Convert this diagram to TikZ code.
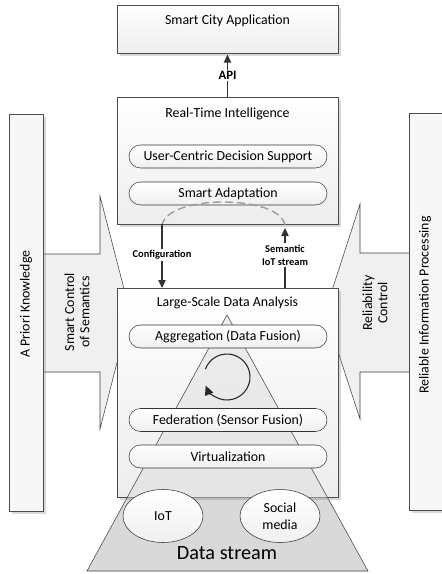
\documentclass[tikz,border=0pt]{standalone}
\usepackage{fontspec}
\setmainfont{Carlito}
\usetikzlibrary{arrows.meta,shadows,shapes.geometric,positioning}
\newcommand{\txtsize}{\fontsize{10.4}{11.5}\selectfont}
\newcommand{\pyramid}{(227,315) -- (368,571) -- (87,571) -- cycle}
\tikzset{
	panel/.style={draw=black!70, top color=white, bottom color=black!7, inner sep=0pt,
		minimum width=165.75pt,
		drop shadow={shadow xshift=2pt, shadow yshift=-2pt, opacity=0.3}},
	sidebar/.style={draw=black!70, fill=black!3, inner sep=0pt,
		minimum width=25.5pt, minimum height=297.75pt,
		drop shadow={shadow xshift=2pt, shadow yshift=-2pt, opacity=0.3}},
	pill/.style={draw=black!80, rounded corners=8.6pt, top color=white, bottom color=black!6,
		minimum width=148.5pt, minimum height=17.25pt, inner sep=0pt, font=\txtsize},
	source/.style={draw=black!80, ellipse, top color=white, bottom color=black!6,
		minimum width=60pt, minimum height=39.75pt, inner sep=0pt, align=center,
		font=\fontsize{10.4}{12.5}\selectfont},
	ttl/.style={font=\txtsize, align=center},
	conn/.style={draw=black!80, line width=0.9pt, -{Triangle[length=6pt,width=5.5pt]}},
	flowlbl/.style={font=\bfseries\fontsize{7.8}{9.75}\selectfont, fill=white, inner sep=1pt, align=center},
	wedge/.style={fill=black!6},
	wedgeline/.style={draw=black!75, line join=miter}
}

\begin{document}
\begin{tikzpicture}[x=0.75pt, y=-0.75pt]
	\useasboundingbox (0,0) rectangle (442,574);

	% side arrows (behind the bars and the analysis box)
	\path[wedge] (43,254) -- (100,254) -- (100,196) -- (130,312) -- (100,429) -- (100,372) -- (43,372) -- cycle;
	\draw[wedgeline] (43,254) -- (100,254) -- (100,196) -- (130,312) -- (100,429) -- (100,372) -- (43,372);
	\path[wedge] (409,253) -- (360,253) -- (360,204) -- (325,312) -- (360,419) -- (360,372) -- (409,372) -- cycle;
	\draw[wedgeline] (409,253) -- (360,253) -- (360,204) -- (325,312) -- (360,419) -- (360,372) -- (409,372);

	\node[ttl, rotate=90] (ctrlsem) at (77,312) {Smart Control\\of Semantics};
	\node[ttl, rotate=90] (ctrlrel) at (375,303) {Reliability\\Control};

	% side bars
	\node[sidebar] (apriori) at (26,312.5) {};
	\node[sidebar] (reliable) at (426,312) {};
	\node[ttl, rotate=90] (aprioritxt) at (26,304) {A Priori Knowledge};
	\node[ttl, rotate=90] (reliabletxt) at (425,305) {Reliable Information Processing};

	% panels
	\node[panel, minimum height=36pt] (app) at (227.5,29) {};
	\node[ttl] (apptxt) at (227.5,21) {Smart City Application};

	\node[panel, minimum height=95.25pt] (rti) at (227.5,160.5) {};
	\node[ttl] (rtitxt) at (227.5,114) {Real-Time Intelligence};
	\node[pill] (ucds) at (228,156.5) {User-Centric Decision Support};
	\node[pill] (adapt) at (228,193.5) {Smart Adaptation};

	% data pyramid, darker outside the analysis box
	\filldraw[draw=black!75, fill=black!15] \pyramid;
	\node[panel, minimum height=156.75pt] (lsda) at (227.5,392.5) {};
	\begin{scope}
		\clip (lsda.north west) rectangle (lsda.south east);
		\filldraw[draw=black!75, fill=black!14, fill opacity=0.45] \pyramid;
	\end{scope}

	\node[ttl] (lsdatxt) at (227.5,303) {Large-Scale Data Analysis};
	\node[pill] (aggr) at (228,336.5) {Aggregation (Data Fusion)};
	\node[pill] (fed) at (228,420) {Federation (Sensor Fusion)};
	\node[pill] (virt) at (228,456.5) {Virtualization};

	\draw[black!85, line width=0.8pt, -{Triangle[length=7pt,width=6.5pt]}]
		(227,377) ++(-160:23) arc[start angle=-160, end angle=158, radius=23];

	\node[source] (iot) at (163,516) {IoT};
	\node[source] (social) at (280,516) {Social\\media};
	\node[font=\fontsize{15.2}{17}\selectfont] (stream) at (227,553) {Data stream};

	% adaptation loop
	\draw[black!40, line width=1pt, dash pattern=on 6pt off 3pt]
		(162,226) .. controls (165,194) and (282,194) .. (285,226);

	% connectors
	\draw[conn] (rti.north) -- node[flowlbl, font=\bfseries\fontsize{9.6}{11}\selectfont] (api) {API} ([yshift=-1pt]app.south);

	\coordinate (cfgtop) at (162,224);
	\coordinate (cfgbot) at (162,288);
	\draw[conn] (cfgtop) -- node[flowlbl, pos=0.48] (cfg) {Configuration} (cfgbot);

	\coordinate (semtop) at (285,228);
	\coordinate (sembot) at (285,288);
	\draw[conn] (sembot) -- node[flowlbl, pos=0.55] (sem) {Semantic\\IoT stream} (semtop);
\end{tikzpicture}
\end{document}
